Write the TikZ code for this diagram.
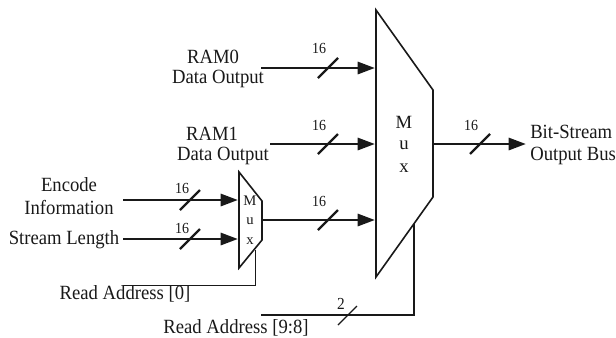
\documentclass[tikz,border=0pt]{standalone}
\usepackage{fontspec}
\setmainfont{Liberation Serif}
\usetikzlibrary{arrows.meta}
\definecolor{ink}{gray}{0.1}
\tikzset{
 lbl/.style={font=\fontsize{14}{15.75}\selectfont,inner sep=0pt,align=center,text=ink,yscale=1.08},
 num/.style={font=\fontsize{10.5}{12}\selectfont,inner sep=0pt,text=ink,yscale=1.1},
 bus/.style={line width=2.2pt,ink,-{Triangle[length=13pt,width=9pt]}},
 thinline/.style={line width=0.7pt,ink},
 slashmark/.style={line width=1.8pt,ink},
 thinslash/.style={line width=0.85pt,ink},
 muxs/.style={draw=ink,line width=1.2pt,fill=white,line join=miter},
 muxtxt/.style={inner sep=0pt,text=ink}
}
\begin{document}
\begin{tikzpicture}[x=0.75pt,y=-0.75pt]
\useasboundingbox (0,0) rectangle (616,337);
% control lines (behind the muxes)
\coordinate (s0) at (255,250); \coordinate (s1) at (255,285); \coordinate (s2) at (124,285);
\draw[thinline] (s0) -- (s1) -- (s2);
\coordinate (t0) at (414,220); \coordinate (t1) at (414,315); \coordinate (t2) at (261,315);
\draw[thinline,line width=0.9pt] (t0) -- (t1) -- (t2);
\coordinate (u0) at (338,325); \coordinate (u1) at (357,306);
\draw[thinslash] (u0) -- (u1);
% big mux
\draw[muxs] (376,10) -- (433,90) -- (433,197) -- (376,277) -- cycle;
\node[muxtxt,font=\fontsize{14}{16}\selectfont] (bigm) at (404,122) {M};
\node[muxtxt,font=\fontsize{14}{16}\selectfont] (bigu) at (404,145) {u};
\node[muxtxt,font=\fontsize{14}{16}\selectfont] (bigx) at (404,168) {x};
% small mux
\draw[muxs] (239,172) -- (262,201) -- (262,240) -- (239,268) -- cycle;
\node[muxtxt,font=\fontsize{11}{13}\selectfont] (sm) at (250,201) {M};
\node[muxtxt,font=\fontsize{11}{13}\selectfont] (su) at (250,221) {u};
\node[muxtxt,font=\fontsize{11}{13}\selectfont] (sx) at (250,241) {x};
% buses
\coordinate (a0) at (261,68); \coordinate (a1) at (375,68);
\coordinate (b0) at (270,144); \coordinate (b1) at (375,144);
\coordinate (c0) at (262,220); \coordinate (c1) at (375,220);
\coordinate (d0) at (433,144); \coordinate (d1) at (526,144);
\coordinate (e0) at (123,200); \coordinate (e1) at (238,200);
\coordinate (f0) at (123,239); \coordinate (f1) at (238,239);
\draw[bus] (a0) -- (a1);
\draw[bus] (b0) -- (b1);
\draw[bus] (c0) -- (c1);
\draw[bus] (d0) -- (d1);
\draw[bus] (e0) -- (e1);
\draw[bus] (f0) -- (f1);
\foreach \x/\y in {328/68,328/144,328/220,480/144,190/200,190/239}
  \draw[slashmark] (\x-10,\y+10) -- (\x+10,\y-10);
\node[num] (n1) at (319,48) {16};
\node[num] (n2) at (319,125) {16};
\node[num] (n3) at (319,201) {16};
\node[num] (n4) at (471,125) {16};
\node[num] (n5) at (182,188) {16};
\node[num] (n6) at (182,228) {16};
\node[num,font=\fontsize{11.5}{12}\selectfont] (n7) at (341,304) {2};
\node[lbl] (r0a) at (213,57) {RAM0};
\node[lbl] (r0b) at (218,79) {Data Output};
\node[lbl] (r1a) at (212,134) {RAM1};
\node[lbl] (r1b) at (223,156) {Data Output};
\node[lbl] (enc) at (69,196) {Encode\\Information};
\node[lbl] (sl) at (64,240) {Stream Length};
\node[lbl,align=left,anchor=west] (bs) at (530,145) {Bit-Stream\\Output Bus};
\node[lbl] (ra0) at (125,294) {Read Address [0]};
\node[lbl] (ra9) at (236,328) {Read Address [9:8]};
\end{tikzpicture}
\end{document}
